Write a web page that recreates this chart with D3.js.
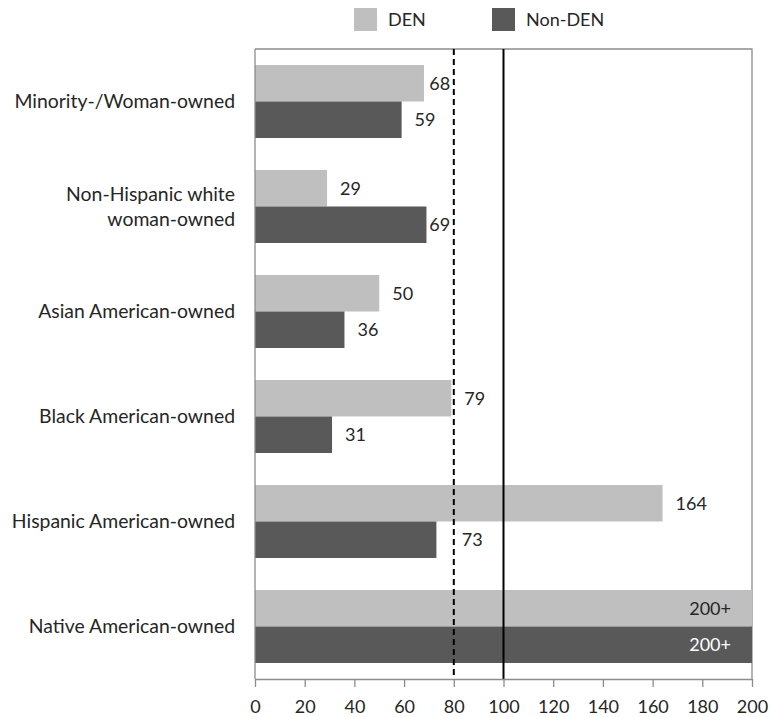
<!DOCTYPE html>
<html><head><meta charset="utf-8">
<script src="https://cdn.jsdelivr.net/npm/d3@7"></script>
<style>
html,body{margin:0;padding:0;background:#fff;}
svg text{font-family:Lato,"Open Sans",sans-serif;fill:#262626;}
</style></head>
<body><svg id="c" width="774" height="717"></svg>
<script>
const categories = ["Minority-/Woman-owned", "Non-Hispanic white\nwoman-owned", "Asian American-owned", "Black American-owned", "Hispanic American-owned", "Native American-owned"];
const seriesNames = ["DEN", "Non-DEN"];
const denValues = [68, 29, 50, 79, 164, 200];
const nonDenValues = [59, 69, 36, 31, 73, 200];
const denLabels = ["68", "29", "50", "79", "164", "200+"];
const nonDenLabels = ["59", "69", "36", "31", "73", "200+"];
const xTicks = [0, 20, 40, 60, 80, 100, 120, 140, 160, 180, 200];
const refDashed = 80;
const refSolid = 100;

const colors = {"DEN": "#bfbfbf", "Non-DEN": "#595959"};
const svg = d3.select("#c");
const m = {left: 255, right: 752, top: 49, bottom: 679};
const fs = 18;
const fsCat = 19.4;

const x = d3.scaleLinear().domain([0, 200]).range([m.left, m.right]);
const y = d3.scaleBand().domain(categories).range([m.top, m.bottom]).paddingInner(0.305).paddingOuter(0.1525);
const sub = d3.scaleBand().domain(seriesNames).range([0, y.bandwidth()]);

const rows = categories.map((c, i) => ({cat: c, vals: [
  {s: "DEN", v: denValues[i], lab: denLabels[i]},
  {s: "Non-DEN", v: nonDenValues[i], lab: nonDenLabels[i]}]}));

// frame (top & right)
svg.append("path").attr("d", `M${m.left},${m.top}H${m.right}V${m.bottom}`)
  .attr("fill", "none").attr("stroke", "#8c8c8c").attr("stroke-width", 1.3);

const g = svg.append("g");
rows.forEach(r => {
  r.vals.forEach(d => {
    g.append("rect").attr("x", x(0)).attr("y", y(r.cat) + sub(d.s))
      .attr("width", x(d.v) - x(0)).attr("height", sub.bandwidth())
      .attr("fill", colors[d.s]);
  });
});

// reference lines
svg.append("line").attr("x1", x(refDashed)).attr("x2", x(refDashed))
  .attr("y1", m.top).attr("y2", m.bottom).attr("stroke", "#000").attr("stroke-width", 2)
  .attr("stroke-dasharray", "6,4");
svg.append("line").attr("x1", x(refSolid)).attr("x2", x(refSolid))
  .attr("y1", m.top).attr("y2", m.bottom).attr("stroke", "#000").attr("stroke-width", 2);

// value labels
rows.forEach(r => {
  r.vals.forEach(d => {
    const cy = y(r.cat) + sub(d.s) + sub.bandwidth() / 2;
    if (d.v >= 200) {
      g.append("text").attr("x", x(d.v) - 21).attr("y", cy).attr("dy", "0.36em")
        .attr("text-anchor", "end").attr("font-size", fs)
        .style("fill", d.s === "DEN" ? "#262626" : "#ffffff").text(d.lab);
    } else {
      const w = d.lab.length * 10.8;
      let lx = x(d.v) + 13;
      const lineX = x(refDashed);
      if (lx < lineX + 3 && lx + w > lineX - 3) {
        const left = lineX - 3 - w, right = lineX + 8;
        lx = (lx - left) < (right - lx) ? left : right;
      }
      g.append("text").attr("x", lx).attr("y", cy).attr("dy", "0.36em")
        .attr("font-size", fs).text(d.lab);
    }
  });
});

// left axis line
svg.append("line").attr("x1", m.left).attr("x2", m.left).attr("y1", m.top).attr("y2", m.bottom)
  .attr("stroke", "#8c8c8c").attr("stroke-width", 1.3);

// category labels
rows.forEach(r => {
  const lines = r.cat.split("\n");
  const cy = y(r.cat) + y.bandwidth() / 2;
  const lh = 25;
  lines.forEach((ln, j) => {
    svg.append("text").attr("x", 235).attr("y", cy + (j - (lines.length - 1) / 2) * lh)
      .attr("dy", "0.36em").attr("text-anchor", "end").attr("font-size", fsCat).text(ln);
  });
});

// bottom axis
const ax = svg.append("g").attr("transform", `translate(0,${m.bottom})`)
  .call(d3.axisBottom(x).tickValues(xTicks).tickSize(8).tickSizeOuter(0).tickPadding(13));
ax.select(".domain").attr("stroke", "#8c8c8c").attr("stroke-width", 1.3);
ax.selectAll(".tick line").attr("stroke", "#8c8c8c").attr("stroke-width", 1.3);
ax.selectAll(".tick text").attr("font-size", fs).style("font-family", "Lato").style("fill", "#262626");

// legend
const lg = svg.append("g");
const legX = [354, 492];
seriesNames.forEach((s, i) => {
  lg.append("rect").attr("x", legX[i]).attr("y", 8).attr("width", 23).attr("height", 23).attr("fill", colors[s]);
  lg.append("text").attr("x", legX[i] + 34).attr("y", 20).attr("dy", "0.36em").attr("font-size", fs).text(s);
});
</script></body></html>
